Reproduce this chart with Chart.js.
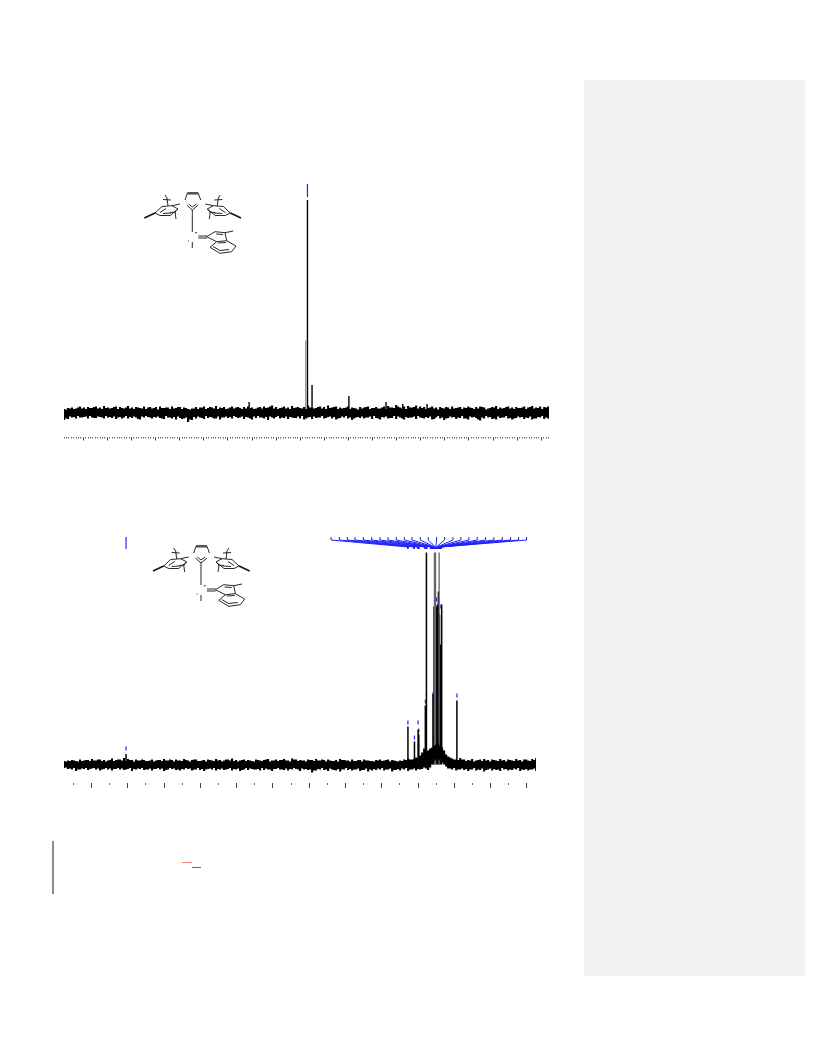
<!DOCTYPE html>
<html>
<head>
<meta charset="utf-8">
<title>NMR spectra</title>
<script src="https://cdn.jsdelivr.net/npm/chart.js@4"></script>
<style>
  html, body { margin: 0; padding: 0; background: #fff; }
  #page { position: relative; width: 816px; height: 1056px; overflow: hidden; }
  canvas { position: absolute; left: 0; top: 0; }
  svg { position: absolute; left: 0; top: 0; }
  .panel { position: absolute; left: 584px; top: 80px; width: 221px; height: 896px; background: #f2f2f2; }
  .bar { position: absolute; left: 52px; top: 841px; width: 2px; height: 53px; background: #8c8c8c; }
  .red { position: absolute; height: 1px; background: #e83030; }
</style>
</head>
<body>
<div id="page">
  <div class="panel"></div>
  <div class="bar"></div>
  <div class="red" style="left:182px;top:862px;width:10px;opacity:.6"></div>
  <div class="red" style="left:192px;top:867px;width:9px"></div>

  <svg width="816" height="1056" fill="none" stroke="#111" stroke-width="0.9">
    <defs>
      <g id="mes">
        <path d="M155 213L162 206.5L172 205.7L178 209L170 215.5L160 215.5Z"/>
        <path d="M160 212.5L166 208.5M163 213.5L171 213"/>
        <path d="M155 213L144.3 218" stroke-width="1.5"/>
        <path d="M168 206L167 198M167 198L165 195M163 199.5L171 200"/>
        <path d="M172 205.7L180 204M178 209L175 212L176 219M170 212.5L176 212"/>
      </g>
      <g id="mol">
        <use href="#mes"/>
        <use href="#mes" transform="translate(385.3 0) scale(-1 1)"/>
        <path d="M187.3 193.3L198.3 193.3" stroke-width="2.6" stroke="#555"/>
        <path d="M187.3 193.3L185 200M198.3 193.3L200.7 200"/>
        <path d="M186.7 205L192.3 210L198.3 205M188.7 204L192.3 207L196.5 204"/>
        <path d="M192.3 210L192.3 232M192.3 242L192.3 248M188 241L189 241"/>
        <path d="M195 233L197 232.5"/>
        <path d="M198.3 236L207 236M198.3 238L207 238"/>
        <path d="M206.7 236.7L215 231.7L225 232.7L226.7 240.7L216.7 241.7Z"/>
        <path d="M216 234L223 234.5"/>
        <path d="M225 232.7L233.3 231"/>
        <path d="M216.7 241.7L210 247.3L220 253.3L231.7 251.7L236 246L226.7 240.7"/>
        <path d="M213 246.5L220 250.5L229 249.5M218 243L226 242.5"/>
      </g>
    </defs>
    <use href="#mol"/>
    <use href="#mol" transform="translate(8.7 353)"/>
  </svg>

  <canvas id="topSpectrum" width="816" height="1056"></canvas>
  <canvas id="bottomSpectrum" width="816" height="1056"></canvas>
</div>

<script>
// upper spectrum
const topRange = [198.0, -3.2];
const topNoiseStep = 0.83;
const topMajorTicks = [190, 180, 170, 160, 150, 140, 130, 120, 110, 100, 90, 80, 70, 60, 50, 40, 30, 20, 10, 0];
const topPeakPpm = [121.2, 95.1, 79.8, 64.4, 57.5, 47.4, 97.0];
const topPeakHeight = [10.5, 27.5, 16.5, 10.5, 8.5, 8.5, 212.5];
const topGhostPpm = [97.7];
const topGhostHeight = [72];
const topLabelPpm = [97.0];

// envelope of the noise, two samples per row pair: even and odd positions
const topNoiseHigh = [
  3.5, 4.5, 5, 4, 6, 5, 5.5, 4.5, 6, 5,
  6.5, 5, 4.5, 6, 5.5, 4, 6.5, 5, 5.5, 4.5,
  6, 5, 4, 5.5, 6, 4.5, 5, 6, 4.5, 5.5,
  5, 3.5, 4, 5.5, 5, 6, 4.5, 5, 6.5, 5,
  5.5, 4, 6, 5, 4.5, 5.5, 6, 5, 4, 5.5,
  6, 5, 7, 5.5, 4.5, 6, 5, 6.5, 5, 4.5,
  5.5, 7, 5, 4.5, 6, 5.5, 7, 5, 6, 5,
  4.5, 6, 5, 4, 5.5, 5, 6, 4.5, 5.5, 4,
  6, 6.5, 5, 7.5, 5, 6, 6.5, 5, 7, 6,
  5.5, 4.5, 6, 5, 5.5, 4, 5, 6, 4.5, 5.5,
  5, 6, 4.5, 5.5, 6, 5, 4, 5.5, 6.5, 5,
  4.5, 6, 5, 5.5, 4.5, 6, 5, 6.5, 5, 6,
  5.5, 6
];
const topNoiseLow = [
  -7.5, -6.5, -5, -6, -5, -4.5, -6, -5, -5.5, -4.5,
  -6, -5, -5.5, -6.5, -4.5, -5, -6, -5.5, -5, -7,
  -5, -4.5, -6, -5, -5.5, -6.5, -5, -6, -7, -5.5,
  -6, -9.5, -7.5, -6, -5, -6.5, -5.5, -5, -6, -7,
  -5, -5.5, -6, -4.5, -5, -6.5, -5, -7, -5.5, -5,
  -6, -7.5, -5, -4.5, -6, -5.5, -6.5, -5, -5.5, -6,
  -7, -5, -6.5, -5.5, -5, -6, -4.5, -6, -7, -5.5,
  -5, -6, -7.5, -5, -5.5, -6, -5, -6.5, -5.5, -7,
  -5, -6, -5.5, -6.5, -5, -7, -5.5, -5, -6.5, -5,
  -6, -5.5, -7, -5, -6, -7.5, -5.5, -5, -6.5, -5.5,
  -6, -7, -5, -5.5, -8, -6, -5, -6.5, -7, -5.5,
  -5, -6, -7, -5.5, -5, -6.5, -5.5, -7, -6, -5,
  -6.5, -6
];
const topNoiseMidHigh = [
  3, 4, 3.5, 5, 4, 3.5, 4.5, 5.5, 4, 3.5,
  4.5, 4, 5.5, 3.5, 4.5, 5, 4, 3.5, 5, 4,
  3.5, 5.5, 4.5, 3, 4.5, 5, 3.5, 4, 5.5, 3.5,
  4.5, 3, 4, 3.5, 5, 3.5, 5.5, 4, 3.5, 4.5,
  3.5, 5, 4, 5.5, 3.5, 4, 4.5, 3.5, 5, 4,
  4.5, 6, 4, 3.5, 5, 4, 3.5, 4.5, 5.5, 4,
  3.5, 5, 4, 5.5, 4, 3.5, 4.5, 5.5, 3.5, 4,
  5, 3.5, 4.5, 3, 4, 5.5, 3.5, 4.5, 4, 5,
  3.5, 5, 4.5, 6, 4, 3.5, 5, 5.5, 4, 4.5,
  3.5, 5, 4, 3, 4.5, 5.5, 3.5, 4, 5, 3.5,
  4.5, 5, 3.5, 4, 5.5, 3, 4.5, 5, 3.5, 4,
  5.5, 4, 3.5, 4.5, 5, 3.5, 5.5, 4, 4.5, 3.5,
  5, 5
];
const topNoiseMidLow = [
  -6, -4, -4.5, -3.5, -5, -4, -3.5, -5.5, -4, -5,
  -3.5, -4.5, -4, -5, -6, -3.5, -4.5, -4, -6.5, -4,
  -3.5, -5, -4.5, -4, -6, -3.5, -5, -4.5, -4, -6.5,
  -5, -7, -4.5, -4, -5.5, -3.5, -4.5, -6, -4, -5,
  -4, -4.5, -3.5, -5.5, -4, -4.5, -6, -4, -3.5, -5,
  -4.5, -4, -6, -3.5, -5, -4, -4.5, -5.5, -4, -3.5,
  -6, -4.5, -4, -5, -3.5, -5.5, -4, -4.5, -6, -4,
  -3.5, -5, -6, -4.5, -4, -5, -4, -3.5, -6, -4.5,
  -4, -5.5, -3.5, -4, -6, -4.5, -5, -4, -3.5, -5.5,
  -4.5, -4, -6.5, -3.5, -5, -6, -4, -4.5, -5, -3.5,
  -6, -4, -4.5, -7, -5, -3.5, -4.5, -6, -4, -5,
  -3.5, -5.5, -6, -4, -4.5, -5, -4, -6, -4.5, -3.5,
  -5, -6
];

// lower spectrum
const bottomRange = [157.6, 27.5];
const bottomNoiseStep = 0.5515;
const bottomMajorTicks = [150, 140, 130, 120, 110, 100, 90, 80, 70, 60, 50, 40, 30];
const bottomMinorTicks = [155, 145, 135, 125, 115, 105, 95, 85, 75, 65, 55, 45, 35];
const bottomPeakPpm = [140.5, 62.8, 61.0, 60.0, 59.8, 58.0, 57.7, 55.9, 55.6, 55.3, 55.0, 54.7, 54.4, 54.1, 53.8, 53.5, 49.3];
const bottomPeakHeight = [10.5, 38, 23, 35, 30, 59, 212, 70, 158, 158, 158, 160, 173, 150, 120, 160, 64];
const bottomGhostPpm = [55.5, 55.2, 54.2];
const bottomGhostHeight = [212, 212, 212];
const bottomMarkPpm = [140.5, 62.8, 61.0, 60.0, 59.8, 57.7, 58.0, 55.9, 55.5, 55.1, 54.8, 54.5, 53.9, 49.3, 54.9, 53.7, 55.2];
const bottomMarkHeight = [16, 42, 27, 42, 34, 70, 63, 70, 63, 44, 33, 35, 49, 69, 165, 158, 140];
const bottomLabelPpm = [140.5];
const fanLabelPpm = [84.0, 81.7, 79.5, 77.4, 75.1, 72.8, 70.5, 68.3, 66.0, 63.8, 61.7, 59.4, 57.2, 54.9, 52.7, 50.4, 48.2, 46.0, 43.7, 41.4, 39.1, 36.8, 34.5, 32.3, 30.1];
const fanPeakPpm = [62.8, 61.1, 60.0, 59.8, 58.1, 57.6, 56.5, 56.2, 56.0, 55.7, 55.5, 55.4, 55.2, 55.1, 55.0, 54.8, 54.7, 54.5, 54.4, 54.3, 54.2, 54.0, 53.9, 53.8, 53.6];

const bottomNoiseHigh = [
  3.5, 4, 4.5, 3.5, 5, 4, 4.5, 5.5, 4, 5,
  4.5, 4, 6, 4.5, 5, 6.5, 5.5, 4.5, 5, 4,
  4.5, 3.5, 5, 4, 4.5, 5.5, 4, 4.5, 5, 4,
  5.5, 4, 4.5, 5, 3.5, 4.5, 5, 4, 5.5, 4.5,
  4, 5, 6, 4.5, 4, 5, 4.5, 3.5, 5, 4,
  4.5, 5.5, 4, 5, 4.5, 5.5, 4, 6, 5, 4.5,
  4, 5, 4.5, 5.5, 4, 4.5, 5, 3.5, 4.5, 5.5,
  4.5, 4, 5, 3.5, 4.5, 5, 4, 3.5, 4.5, 5,
  4, 5, 4.5, 3.5, 4, 5, 6, 5, 7, 9,
  16, 14, 17, 20, 19, 14, 8, 6, 5, 6.5,
  5, 4.5, 5.5, 4, 5, 5.5, 4.5, 5, 4, 5.5,
  4.5, 5, 4, 5.5, 4.5, 5, 4, 5.5, 6.5
];
const bottomNoiseLow = [
  -3.5, -4.5, -5, -6.5, -5, -4.5, -5.5, -4, -5, -6,
  -4.5, -5, -6, -4.5, -5, -5.5, -4.5, -6.5, -5, -4.5,
  -5.5, -5, -6, -4.5, -5, -6.5, -5, -4.5, -5.5, -6,
  -5, -4.5, -6, -5, -5.5, -6.5, -4.5, -5, -6, -5,
  -5.5, -4.5, -6, -5, -6.5, -5, -5.5, -4.5, -5, -6,
  -5.5, -5, -6.5, -4.5, -5, -5.5, -6, -5, -4.5, -6.5,
  -5, -5.5, -8, -6, -5, -5.5, -6.5, -5, -6, -7,
  -5, -5.5, -6, -5, -6.5, -5.5, -7, -6, -5.5, -5,
  -6, -5, -7, -5.5, -6, -5, -6.5, -5, -6, -5,
  -3, -5.5, 0, 5, 4, 0, -4, -5, -6, -5,
  -5.5, -6.5, -5, -6, -5.5, -7, -5, -6, -5.5, -6.5,
  -5, -6, -5.5, -5, -6.5, -5.5, -6, -5, -6.5
];
const bottomNoiseMidHigh = [
  3, 3.5, 4, 3, 3.5, 4.5, 3.5, 4, 5, 3.5,
  3, 4.5, 3.5, 5, 4, 3.5, 4.5, 3, 4, 5,
  3.5, 4, 3, 4.5, 3.5, 4, 5, 3, 4, 3.5,
  4.5, 3, 5, 3.5, 4, 3, 4.5, 3.5, 4, 3,
  5, 4, 3.5, 3, 4.5, 3.5, 4, 3, 4.5, 3.5,
  5, 3, 4, 3.5, 4.5, 4, 3, 5, 3.5, 4,
  3, 4.5, 3.5, 4, 5, 3, 4, 3.5, 3, 4.5,
  4, 3, 3.5, 4.5, 3, 4, 3.5, 3, 4, 3.5,
  4.5, 3, 4, 3, 3.5, 4.5, 5, 5.5, 6, 12,
  15, 16, 19, 21, 17, 10, 7, 5, 4.5, 5,
  3.5, 4, 3, 4.5, 3.5, 4, 3, 4.5, 3.5, 4,
  3, 4.5, 3.5, 4, 3, 5, 3.5, 4.5, 6
];
const bottomNoiseMidLow = [
  -3, -4, -3.5, -5, -4, -3.5, -4.5, -3.5, -4, -5,
  -3.5, -4, -4.5, -3.5, -4, -5, -3.5, -4.5, -4, -3.5,
  -5, -4, -4.5, -3.5, -4, -5.5, -3.5, -4, -5, -4.5,
  -3.5, -4, -5, -3.5, -4.5, -5, -4, -3.5, -4.5, -4,
  -5, -3.5, -4.5, -4, -5.5, -3.5, -4, -5, -4.5, -3.5,
  -4, -5, -4.5, -3.5, -5, -4, -4.5, -3.5, -5, -4,
  -4.5, -5, -6, -4.5, -3.5, -5, -4, -5.5, -4.5, -5,
  -3.5, -4.5, -5, -4, -5.5, -4, -5, -4.5, -4, -3.5,
  -5, -4, -5.5, -4.5, -4, -3.5, -5, -4, -4.5, -4.5,
  -4, -3, 3, 5, 2, -2, -4, -3.5, -5, -4,
  -4.5, -5, -3.5, -5, -4, -5.5, -4, -4.5, -5, -3.5,
  -4.5, -5, -4, -3.5, -5, -4.5, -5, -4, -6
];

const BLUE = '#2020f5';

// one vertical stem per x value, gaps between them
function stems(xs, lows, highs) {
  const pts = [];
  xs.forEach((x, i) => {
    pts.push({ x: x, y: lows[i] });
    pts.push({ x: x, y: highs[i] });
    pts.push({ x: x, y: null });
  });
  return pts;
}

function fill(xs, v) {
  return xs.map(() => v);
}

function line(data, color, width) {
  return { data: data, borderColor: color, borderWidth: width, pointRadius: 0, showLine: true, spanGaps: false };
}

// baseline noise as short columns, the mid samples sit between the others
function noiseColumns(start, step, high, low, midHigh, midLow) {
  const xs = [], lows = [], highs = [];
  high.forEach((v, i) => {
    xs.push(start - 2 * i * step, start - (2 * i + 1) * step);
    highs.push(v, midHigh[i]);
    lows.push(low[i], midLow[i]);
  });
  return Object.assign(line(stems(xs, lows, highs), '#000', 2.1), { borderCapStyle: 'butt' });
}

function tickAxis(range, values, length, color, yAt) {
  return {
    type: 'linear',
    axis: 'x',
    reverse: true,
    min: range[1],
    max: range[0],
    position: { y: yAt },
    border: { display: false },
    grid: { drawOnChartArea: false, drawTicks: true, tickLength: length, tickColor: color, tickWidth: 1 },
    ticks: { display: false },
    afterBuildTicks: axis => { axis.ticks = values.map(v => ({ value: v })); }
  };
}

function spectrum(id, datasets, range, yRange, padding, major, minor, lengths) {
  new Chart(document.getElementById(id), {
    type: 'scatter',
    data: { datasets: datasets },
    options: {
      responsive: false,
      animation: false,
      layout: { padding: padding },
      plugins: { legend: { display: false }, tooltip: { enabled: false } },
      scales: {
        x: tickAxis(range, major, lengths[0], '#444', yRange[0]),
        minor: tickAxis(range, minor, lengths[1], '#666', yRange[0]),
        y: { display: false, min: yRange[0], max: yRange[1] }
      }
    }
  });
}

// the top axis has a small tick at every whole unit
const topMinorTicks = [];
for (let v = 198; v >= -3; v--) topMinorTicks.push(v);

spectrum('topSpectrum', [
  noiseColumns(topRange[0], topNoiseStep, topNoiseHigh, topNoiseLow, topNoiseMidHigh, topNoiseMidLow),
  line(stems(topGhostPpm, fill(topGhostPpm, 0), topGhostHeight), '#999', 1.5),
  line(stems(topPeakPpm, fill(topPeakPpm, 0), topPeakHeight), '#000', 1.4),
  line(stems(topLabelPpm, fill(topLabelPpm, 215.5), fill(topLabelPpm, 228.5)), BLUE, 1.2)
], topRange, [-24, 232.5], { left: 64, right: 267, top: 180, bottom: 619.5 }, topMajorTicks, topMinorTicks, [3.5, 1.5]);

spectrum('bottomSpectrum', [
  noiseColumns(bottomRange[0], bottomNoiseStep, bottomNoiseHigh, bottomNoiseLow, bottomNoiseMidHigh, bottomNoiseMidLow),
  line(stems(bottomGhostPpm, fill(bottomGhostPpm, 0), bottomGhostHeight), '#666', 1.3),
  line(stems(bottomPeakPpm, fill(bottomPeakPpm, 0), bottomPeakHeight), '#000', 1.5),
  line(stems(bottomMarkPpm, bottomMarkHeight.map(h => h - 2), bottomMarkHeight.map(h => h + 2)), BLUE, 1.2),
  line(stems(bottomLabelPpm, fill(bottomLabelPpm, 215.5), fill(bottomLabelPpm, 227.5)), BLUE, 1.2),
  // leader lines from the peak list down to the peaks
  line(stems(fanLabelPpm, fill(fanLabelPpm, 224.5), fill(fanLabelPpm, 227.5)), BLUE, 1),
  ...fanLabelPpm.map((p, i) => line([{ x: p, y: 224.5 }, { x: fanPeakPpm[i], y: 217.5 }, { x: fanPeakPpm[i], y: 215.5 }], BLUE, 1))
], bottomRange, [-18.5, 234.5], { left: 64, right: 280, top: 530, bottom: 273 }, bottomMajorTicks, bottomMinorTicks, [5, 2]);
</script>
</body>
</html>
